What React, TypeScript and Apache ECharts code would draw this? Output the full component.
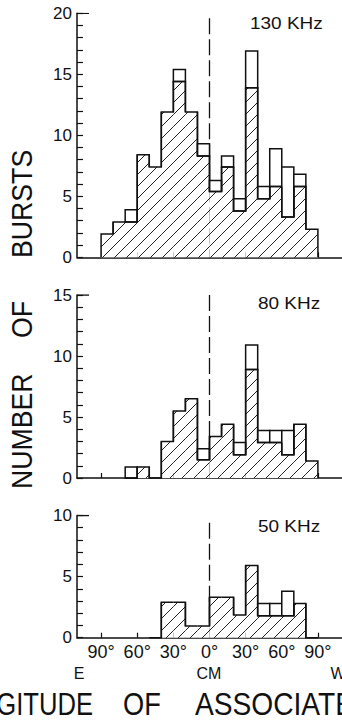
import React, { useEffect, useRef } from "react";
import * as echarts from "echarts";

// ---------- data ----------
const binStarts = [-90, -80, -70, -60, -50, -40, -30, -20, -10, 0, 10, 20, 30, 40, 50, 60, 70, 80];
const binWidth = 10;

const khz130Total = [1.9, 2.9, 3.9, 8.4, 7.4, 11.9, 15.4, 11.9, 9.3, 6.3, 8.3, 4.8, 16.9, 5.8, 8.9, 7.4, 6.8, 2.3];
const khz130Hatched = [1.9, 2.9, 2.9, 8.4, 7.4, 11.9, 14.4, 11.9, 8.3, 5.4, 7.4, 3.8, 13.9, 4.8, 5.8, 3.3, 5.8, 2.3];

const khz80Total = [0, 0, 0.9, 0.9, 0, 3, 5.5, 6.5, 2.4, 3.4, 4.4, 2.9, 10.9, 3.9, 3.9, 3.9, 4.4, 1.4];
const khz80Hatched = [0, 0, 0, 0.9, 0, 3, 5.5, 6.5, 1.5, 3.4, 4.4, 1.9, 8.9, 2.9, 2.9, 1.9, 4.4, 1.4];

const khz50Total = [0, 0, 0, 0, 0, 2.9, 2.9, 0.95, 0.95, 3.3, 3.3, 1.85, 5.9, 2.8, 2.8, 3.8, 2.8, 0];
const khz50Hatched = [0, 0, 0, 0, 0, 2.9, 2.9, 0.95, 0.95, 3.3, 3.3, 1.85, 5.9, 1.8, 1.8, 1.8, 2.8, 0];

const panelLabels = ["130 KHz", "80 KHz", "50 KHz"];
const yMaxes = [20, 15, 10];
const dashTops = [19.6, 15, 9.4];
const xTickValues = [-90, -60, -30, 0, 30, 60, 90];
const xTickLabels = ["90°", "60°", "30°", "0°", "30°", "60°", "90°"];
const xMin = -110;
const xMax = 110;

const FONT = "'Liberation Sans', 'DejaVu Sans', sans-serif";
const INK = "#111";

function makeHatch(): string {
  const s = 12;
  const c = document.createElement("canvas");
  c.width = s;
  c.height = s;
  const ctx = c.getContext("2d")!;
  ctx.fillStyle = "#fff";
  ctx.fillRect(0, 0, s, s);
  ctx.strokeStyle = "#222";
  ctx.lineWidth = 1;
  ctx.beginPath();
  ctx.moveTo(0, s);
  ctx.lineTo(s, 0);
  ctx.moveTo(-2, 2);
  ctx.lineTo(2, -2);
  ctx.moveTo(s - 2, s + 2);
  ctx.lineTo(s + 2, s - 2);
  ctx.stroke();
  return c.toDataURL();
}

export default function App() {
  const ref = useRef<HTMLDivElement>(null);

  useEffect(() => {
    if (!ref.current) return;
    const chart = echarts.init(ref.current, undefined, { renderer: "svg" });
    const hatchFill: any = { image: makeHatch(), repeat: "repeat", imageWidth: 12, imageHeight: 12 };

    const totals = [khz130Total, khz80Total, khz50Total];
    const hatched = [khz130Hatched, khz80Hatched, khz50Hatched];

    const grids = [
      { left: 77, width: 267, top: 13.3, height: 244 },
      { left: 77, width: 267, top: 295, height: 183 },
      { left: 77, width: 267, top: 515.5, height: 122.2 },
    ];

    const xAxes = grids.map((_, i) => ({
      type: "value",
      gridIndex: i,
      min: xMin,
      max: xMax,
      axisLine: { show: true, onZero: false, lineStyle: { color: INK, width: 1.5 } },
      axisTick: {
        show: true,
        inside: true,
        length: 5,
        customValues: xTickValues,
        lineStyle: { color: INK, width: 1.2 },
      },
      splitLine: { show: false },
      axisLabel: {
        show: i === 2,
        customValues: xTickValues,
        formatter: (v: number) => xTickLabels[xTickValues.indexOf(v)] ?? "",
        color: INK,
        fontFamily: FONT,
        fontSize: 18,
        margin: 5,
      },
    }));

    const yAxes = grids.map((_, i) => ({
      type: "value",
      gridIndex: i,
      min: 0,
      max: yMaxes[i],
      interval: 5,
      axisLine: { show: true, onZero: false, lineStyle: { color: INK, width: 1.5 } },
      axisTick: { show: true, inside: true, length: 6, lineStyle: { color: INK, width: 1.2 } },
      minorTick: { show: true, splitNumber: 5, length: 6, lineStyle: { color: INK, width: 1.2 } },
      splitLine: { show: false },
      minorSplitLine: { show: false },
      axisLabel: { color: INK, fontFamily: FONT, fontSize: 17, margin: 5 },
    }));

    const series: any[] = [];
    grids.forEach((_, i) => {
      series.push({
        type: "line",
        xAxisIndex: i,
        yAxisIndex: i,
        data: [
          [0, dashTops[i]],
          [0, 0],
        ],
        symbol: "none",
        lineStyle: { color: INK, width: 1.3, type: [16, 5] },
        z: 1,
        silent: true,
      });
      series.push({
        type: "line",
        xAxisIndex: i,
        yAxisIndex: i,
        data: [
          [xMin, yMaxes[i]],
          [xMin + binWidth, yMaxes[i]],
        ],
        symbol: "none",
        lineStyle: { color: INK, width: 1.3 },
        z: 5,
        silent: true,
      });
      const hat = hatched[i];
      const data = binStarts.map((b, k) => [
        b,
        b + binWidth,
        totals[i][k],
        hat[k],
        k > 0 ? hat[k - 1] : 0,
        k < hat.length - 1 ? hat[k + 1] : 0,
      ]);
      // fills (hatched part + hollow boxes)
      series.push({
        type: "custom",
        xAxisIndex: i,
        yAxisIndex: i,
        data,
        encode: { x: [0, 1], y: [2, 3] },
        z: 2,
        clip: false,
        silent: true,
        renderItem: (_p: any, api: any) => {
          const x0 = api.value(0);
          const x1 = api.value(1);
          const tot = api.value(2);
          const h = api.value(3);
          const base0 = api.coord([x0, 0]);
          const base1 = api.coord([x1, 0]);
          const pHat = api.coord([x1, h]);
          const w = base1[0] - base0[0];
          const children: any[] = [];
          if (h > 0) {
            children.push({
              type: "rect",
              shape: { x: base0[0], y: pHat[1], width: w, height: base0[1] - pHat[1] },
              style: { fill: hatchFill, stroke: null },
            });
          }
          return { type: "group", children };
        },
      });
      // outlines: step outline of hatched part and hollow boxes on top
      series.push({
        type: "custom",
        xAxisIndex: i,
        yAxisIndex: i,
        data,
        encode: { x: [0, 1], y: [2, 3] },
        z: 3,
        clip: false,
        silent: true,
        renderItem: (_p: any, api: any) => {
          const x0 = api.value(0);
          const x1 = api.value(1);
          const tot = api.value(2);
          const h = api.value(3);
          const prev = api.value(4);
          const next = api.value(5);
          const children: any[] = [];
          if (tot > h) {
            const a = api.coord([x0, tot]);
            const b = api.coord([x1, h]);
            children.push({
              type: "rect",
              shape: { x: a[0], y: a[1], width: b[0] - a[0], height: b[1] - a[1] },
              style: { fill: "#fff", stroke: INK, lineWidth: 1.5 },
            });
          }
          if (h > 0 || prev > 0 || next > 0) {
            const pts = [
              api.coord([x0, prev]),
              api.coord([x0, h]),
              api.coord([x1, h]),
              api.coord([x1, next]),
            ];
            children.push({
              type: "polyline",
              shape: { points: pts },
              style: { fill: null, stroke: INK, lineWidth: 1.5 },
            });
          }
          return { type: "group", children };
        },
      });
    });

    const txt = (
      text: string,
      x: number,
      y: number,
      fontSize: number,
      align: string,
      extra: any = {}
    ) => ({
      type: "text",
      x,
      y,
      ...extra,
      style: {
        text,
        fontSize,
        fontFamily: FONT,
        fill: INK,
        align,
        verticalAlign: "middle",
        textAlign: align,
        textVerticalAlign: "middle",
      },
      silent: true,
    });

    const graphic: any[] = [
      txt(panelLabels[0], 250, 23, 16.5, "left", { scaleX: 1.15 }),
      txt(panelLabels[1], 258, 303, 16.5, "left", { scaleX: 1.15 }),
      txt(panelLabels[2], 258, 526, 16.5, "left", { scaleX: 1.15 }),
      txt("E", 79, 673, 16, "center"),
      txt("CM", 209, 673, 16, "center"),
      txt("W", 338, 673, 16, "center"),
      txt("LONGITUDE", 93, 704, 32, "right", { scaleX: 0.8 }),
      txt("OF", 123, 704, 32, "left", { scaleX: 0.85 }),
      txt("ASSOCIATED", 195, 704, 32, "left", { scaleX: 0.88 }),
      txt("BURSTS", 22, 258, 29, "left", { rotation: Math.PI / 2, scaleX: 0.92 }),
      txt("OF", 22, 338, 29, "left", { rotation: Math.PI / 2, scaleX: 0.92 }),
      txt("NUMBER", 22, 489, 29, "left", { rotation: Math.PI / 2, scaleX: 0.92 }),
    ];

    chart.setOption({
      animation: false,
      backgroundColor: "#fff",
      grid: grids,
      xAxis: xAxes,
      yAxis: yAxes,
      series,
      graphic,
    });

    return () => chart.dispose();
  }, []);

  return (
    <div
      ref={ref}
      style={{ position: "fixed", left: 0, top: 0, width: 342, height: 728, background: "#fff" }}
    />
  );
}
